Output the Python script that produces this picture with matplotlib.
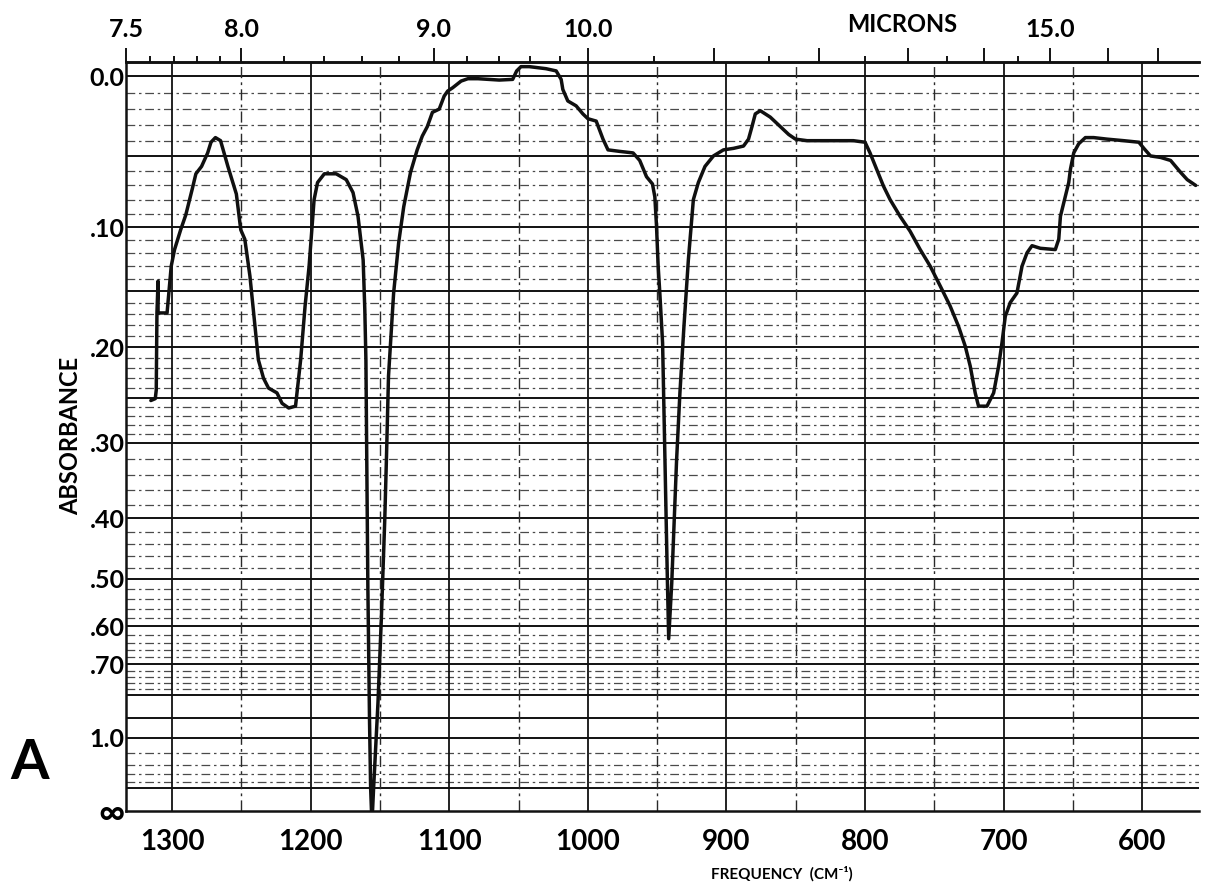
import numpy as np
import matplotlib
matplotlib.use("Agg")
import matplotlib.pyplot as plt

# ---- spectrum trace: wavenumber (cm^-1) and absorbance ----
wavenumber = [
    1315.4, 1312.2, 1311.5, 1311.0, 1310.2, 1310.2, 1303.7, 1302.4, 1300.7, 1298.3,
    1293.9, 1290.2, 1285.4, 1282.9, 1278.8, 1274.4, 1272.0, 1268.8, 1265.1, 1259.8,
    1253.7, 1250.5, 1247.6, 1243.9, 1240.2, 1237.8, 1234.1, 1230.5, 1224.4, 1220.7,
    1215.9, 1211.0, 1207.3, 1204.1, 1201.2, 1197.6, 1195.1, 1190.2, 1181.7, 1174.4,
    1169.5, 1165.9, 1162.2, 1161.0, 1160.2, 1159.6, 1158.8, 1157.6, 1156.8, 1156.2,
    1155.4, 1154.6, 1151.5, 1149.1, 1146.6, 1145.4, 1143.9, 1140.2, 1136.6, 1132.9,
    1128.0, 1123.2, 1119.5, 1115.9, 1112.2, 1107.3, 1103.7, 1101.2, 1097.6, 1091.5,
    1086.6, 1079.3, 1064.0, 1054.3, 1051.4, 1048.3, 1042.3, 1030.2, 1022.9, 1019.3,
    1018.1, 1014.5, 1008.5, 1003.6, 1000.0, 994.0, 989.1, 985.5, 977.0, 967.4,
    962.6, 957.7, 953.4, 951.7, 950.5, 949.3, 948.1, 946.1, 944.4, 943.8,
    942.6, 941.7, 941.2, 939.5, 937.1, 936.0, 933.6, 930.7, 927.5, 923.9,
    920.3, 915.5, 909.4, 902.2, 894.9, 887.7, 884.1, 881.6, 879.2, 875.6,
    868.4, 861.1, 855.1, 850.2, 841.8, 817.6, 808.4, 800.0, 796.4, 791.6,
    786.7, 781.9, 774.7, 767.5, 760.2, 753.0, 745.8, 738.6, 732.5, 727.7,
    724.1, 720.5, 718.1, 712.0, 707.2, 703.6, 701.2, 698.8, 695.2, 690.4,
    686.7, 683.1, 679.5, 673.5, 662.7, 660.2, 659.0, 655.4, 653.0, 651.8,
    649.4, 645.8, 641.0, 635.0, 625.3, 613.3, 602.4, 598.8, 594.0, 586.7,
    579.5, 575.9, 572.3, 567.5, 561.4,
]
absorbance = [
    0.253, 0.251, 0.242, 0.169, 0.142, 0.169, 0.169, 0.152, 0.130, 0.117,
    0.102, 0.091, 0.072, 0.062, 0.057, 0.048, 0.041, 0.038, 0.040, 0.057,
    0.076, 0.102, 0.109, 0.138, 0.181, 0.212, 0.230, 0.240, 0.245, 0.256,
    0.261, 0.259, 0.212, 0.163, 0.130, 0.080, 0.068, 0.062, 0.062, 0.066,
    0.075, 0.092, 0.125, 0.166, 0.212, 0.320, 0.515, 0.907, 1.500, 3.000,
    3.000, 1.480, 0.832, 0.585, 0.402, 0.320, 0.228, 0.152, 0.112, 0.085,
    0.061, 0.046, 0.037, 0.031, 0.022, 0.020, 0.012, 0.009, 0.007, 0.003,
    0.0016, 0.0016, 0.0024, 0.002, -0.003, -0.0055, -0.0055, -0.0043, -0.003, 0.002,
    0.008, 0.015, 0.018, 0.023, 0.026, 0.0275, 0.039, 0.046, 0.047, 0.048,
    0.053, 0.064, 0.069, 0.078, 0.099, 0.130, 0.152, 0.196, 0.321, 0.373,
    0.5085, 0.630, 0.600, 0.5085, 0.373, 0.321, 0.245, 0.181, 0.125, 0.080,
    0.068, 0.057, 0.050, 0.046, 0.045, 0.0435, 0.039, 0.031, 0.023, 0.021,
    0.025, 0.031, 0.036, 0.039, 0.040, 0.040, 0.040, 0.041, 0.048, 0.059,
    0.0705, 0.080, 0.092, 0.103, 0.117, 0.130, 0.146, 0.163, 0.181, 0.199,
    0.218, 0.245, 0.259, 0.259, 0.245, 0.218, 0.196, 0.172, 0.160, 0.152,
    0.130, 0.1195, 0.114, 0.116, 0.117, 0.109, 0.092, 0.0775, 0.068, 0.059,
    0.048, 0.042, 0.038, 0.038, 0.039, 0.040, 0.041, 0.045, 0.050, 0.051,
    0.053, 0.057, 0.061, 0.066, 0.070,
]

# ---- axis annotations ----
freq_ticks = [1300, 1200, 1100, 1000, 900, 800, 700, 600]
freq_labels = ["1300", "1200", "1100", "1000", "900", "800", "700", "600"]
abs_ticks = [0.0, 0.10, 0.20, 0.30, 0.40, 0.50, 0.60, 0.70, 1.0, 8.0]
abs_labels = ["0.0", ".10", ".20", ".30", ".40", ".50", ".60", ".70", "1.0", "\u221e"]
micron_major = [7.5, 8.0, 9.0, 10.0, 11.0, 12.0, 13.0, 14.0, 15.0, 16.0, 17.0]
micron_major_labels = ["7.5", "8.0", "9.0", "10.0", "", "", "", "", "15.0", "", ""]
micron_minor = [7.6, 7.7, 7.8, 7.9, 8.2, 8.4, 8.6, 8.8, 9.2, 9.4, 9.6, 9.8,
                10.5, 11.5, 12.5, 13.5, 14.5]

FONT = ["Lato", "DejaVu Sans"]
plt.rcParams["font.family"] = FONT
WEIGHT = "bold"

W, H = 1206, 892
fig = plt.figure(figsize=(W / 100, H / 100), dpi=100)
fig.patch.set_facecolor("white")

left, right, top, bottom = 126, 1199, 62, 811
ax = fig.add_axes([left / W, 1 - bottom / H, (right - left) / W, (bottom - top) / H])


# chart paper is linear in transmittance, labelled in absorbance
def to_trans(a):
    a = np.asarray(a, dtype=float)
    return 1.0 - np.power(10.0, -a)


def from_trans(t):
    t = np.clip(np.asarray(t, dtype=float), None, 1 - 1e-12)
    return -np.log10(1.0 - t)


ax.set_yscale("function", functions=(to_trans, from_trans))
ax.set_xlim(1e4 / 7.5, 559)
ax.set_ylim(8.0, -0.0082)

# horizontal rulings: heavy every 0.05 (0.1 further down), light in between
solid_levels = [0.0, 0.05, 0.10, 0.15, 0.20, 0.25, 0.30, 0.40, 0.50, 0.60,
                0.70, 0.80, 0.90, 1.0, 1.5]
fine_levels = [round(0.01 * i, 2) for i in range(1, 30) if i % 5]
fine_levels += [round(0.30 + 0.02 * i, 2) for i in range(1, 25) if i % 5]
fine_levels += [1.1, 1.2, 1.3, 1.4]

for lv in fine_levels:
    ax.axhline(lv, color="#4a4a4a", lw=0.9, ls=(0, (7, 3, 2, 3)), zorder=1)
for lv in solid_levels:
    ax.axhline(lv, color="#111111", lw=1.4, zorder=2)

# vertical rulings
for f in range(1300, 550, -100):
    ax.axvline(f, color="#111111", lw=1.3, zorder=2)
for f in range(1250, 550, -100):
    ax.axvline(f, color="#2a2a2a", lw=1.0, ls=(0, (8, 3, 2, 3)), zorder=2)

# spectrum
ax.plot(wavenumber, absorbance, color="#101010", lw=2.5, solid_joinstyle="round",
        solid_capstyle="round", zorder=5, clip_on=False)

# frame
ax.spines["right"].set_visible(False)
for side in ("left", "bottom", "top"):
    ax.spines[side].set_linewidth(1.8)
    ax.spines[side].set_color("#111111")

ax.set_xticks(freq_ticks, freq_labels)
ax.set_yticks(abs_ticks, abs_labels)
ax.minorticks_off()
ax.tick_params(axis="x", which="both", length=0, pad=13, labelsize=20)
ax.tick_params(axis="y", which="both", length=0, pad=1, labelsize=18)
for lab in ax.get_xticklabels() + ax.get_yticklabels():
    lab.set_fontweight(WEIGHT)
# the infinity mark at the foot of the scale is drawn larger
ax.get_yticklabels()[-1].set_fontsize(26)

# micron scale along the top
sec = ax.secondary_xaxis("top", functions=(lambda x: 1e4 / np.asarray(x, float),
                                           lambda x: 1e4 / np.asarray(x, float)))
sec.set_xticks(micron_major, micron_major_labels)
sec.set_xticks(micron_minor, minor=True)
sec.tick_params(axis="x", which="major", direction="out", length=10, width=1.3,
                pad=5, labelsize=18)
sec.tick_params(axis="x", which="minor", direction="out", length=4, width=1.3)
sec.spines["top"].set_linewidth(1.8)
for lab in sec.get_xticklabels():
    lab.set_fontweight(WEIGHT)

fig.text(902 / W, 1 - 24 / H, "MICRONS", ha="center", va="center", fontsize=17,
         fontweight=WEIGHT)
fig.text(782 / W, 1 - 874 / H, "FREQUENCY  (CM\u207b\u00b9)", ha="center", va="center",
         fontsize=11, fontweight="bold")
fig.text(71 / W, 1 - 436 / H, "ABSORBANCE", ha="center", va="center",
         rotation=90, fontsize=17, fontweight=WEIGHT)
fig.text(30 / W, 1 - 763 / H, "A", ha="center", va="center", fontsize=40,
         fontweight="bold")

fig.savefig("out.png", dpi=100, facecolor="white")
